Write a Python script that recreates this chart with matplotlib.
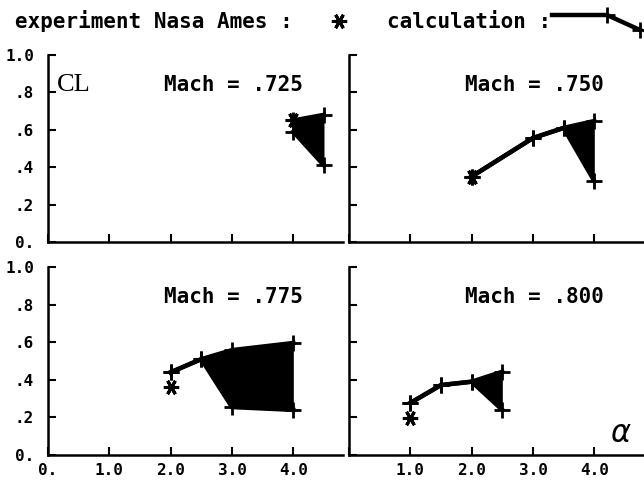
"""CL versus alpha at four Mach numbers: Nasa Ames experiment against calculation."""

import matplotlib

matplotlib.use("Agg")
import matplotlib.pyplot as plt
from matplotlib.lines import Line2D

# calculation: upper / lower bound of CL at each incidence, filled between
mach_labels = ["Mach = .725", "Mach = .750", "Mach = .775", "Mach = .800"]
alpha_calc = [
    [4.0, 4.5],
    [2.0, 3.0, 3.5, 4.0],
    [2.0, 2.5, 3.0, 4.0],
    [1.0, 1.5, 2.0, 2.5],
]
cl_upper = [
    [0.65, 0.68],
    [0.35, 0.556, 0.61, 0.647],
    [0.44, 0.51, 0.558, 0.596],
    [0.277, 0.372, 0.39, 0.443],
]
cl_lower = [
    [0.59, 0.41],
    [0.35, 0.556, 0.61, 0.326],
    [0.44, 0.51, 0.255, 0.24],
    [0.277, 0.372, 0.39, 0.24],
]
# experiment Nasa Ames
alpha_exp = [4.0, 2.0, 2.0, 1.0]
cl_exp = [0.65, 0.35, 0.362, 0.197]

y_ticks = [0.0, 0.2, 0.4, 0.6, 0.8, 1.0]
y_ticklabels = ["0.", ".2", ".4", ".6", ".8", "1.0"]
x_ticks = [0.0, 1.0, 2.0, 3.0, 4.0]
x_ticklabels_left = ["0.", "1.0", "2.0", "3.0", "4.0"]
x_ticklabels_right = ["", "1.0", "2.0", "3.0", "4.0"]

MONO = "DejaVu Sans Mono"
STAR = (6, 2, 90)

fig = plt.figure(figsize=(6.44, 4.87), dpi=100)

col_x = [0.0745, 0.5419]
row_y = [0.5031, 0.0657]
width = 0.4581
heights = [0.384, 0.386]

for i in range(4):
    row, col = divmod(i, 2)
    ax = fig.add_axes([col_x[col], row_y[row], width, heights[row]])
    ax.set_xlim(0, 4.81)
    ax.set_ylim(0, 1.0)
    for side in ("top", "right"):
        ax.spines[side].set_visible(False)
    for side in ("left", "bottom"):
        ax.spines[side].set_linewidth(1.8)
    ax.tick_params(direction="in", length=6, width=1.5)
    ax.set_xticks(x_ticks)
    ax.set_yticks(y_ticks)

    if col == 0:
        ax.set_yticklabels(y_ticklabels, fontfamily=MONO, fontweight="bold", fontsize=11.5)
    else:
        ax.set_yticklabels([])
    if row == 1:
        labels = x_ticklabels_left if col == 0 else x_ticklabels_right
        ax.set_xticklabels(labels, fontfamily=MONO, fontweight="bold", fontsize=11.5)
    else:
        ax.set_xticklabels([])
    ax.tick_params(axis="y", pad=10)
    ax.tick_params(axis="x", pad=6)

    a = alpha_calc[i]
    ax.fill_between(a, cl_lower[i], cl_upper[i], color="black", linewidth=0)
    ax.plot(a, cl_upper[i], color="black", lw=3.2, marker="+", ms=11, mew=2)
    ax.plot(a, cl_lower[i], color="black", lw=3.2, marker="+", ms=11, mew=2)
    ax.plot([alpha_exp[i]], [cl_exp[i]], linestyle="none", marker=STAR,
            ms=11, mew=2.2, color="black")

    ax.text(3.02, 0.81, mach_labels[i], ha="center", va="baseline",
            fontfamily=MONO, fontweight="bold", fontsize=15)
    if i == 0:
        ax.text(0.14, 0.81, "CL", ha="left", va="baseline",
                fontfamily="Liberation Serif", fontsize=19)
    if i == 3:
        ax.text(4.26, 0.07, "α", ha="left", va="baseline",
                fontfamily="DejaVu Sans", style="italic", fontsize=22)

# header legend
fig.text(15 / 644, 1 - 28 / 487, "experiment Nasa Ames :", ha="left", va="baseline",
         fontfamily=MONO, fontweight="bold", fontsize=15)
fig.add_artist(Line2D([339 / 644], [1 - 21 / 487], marker=STAR, ms=11, mew=2.2,
                      color="black", linestyle="none"))
fig.text(387 / 644, 1 - 28 / 487, "calculation :", ha="left", va="baseline",
         fontfamily=MONO, fontweight="bold", fontsize=15)
fig.add_artist(Line2D([552 / 644, 607 / 644, 640 / 644],
                      [1 - 15 / 487, 1 - 15 / 487, 1 - 30 / 487],
                      color="black", lw=3.2, marker="+", ms=11, mew=2,
                      markevery=[1, 2]))

fig.savefig("out.png", dpi=100)
